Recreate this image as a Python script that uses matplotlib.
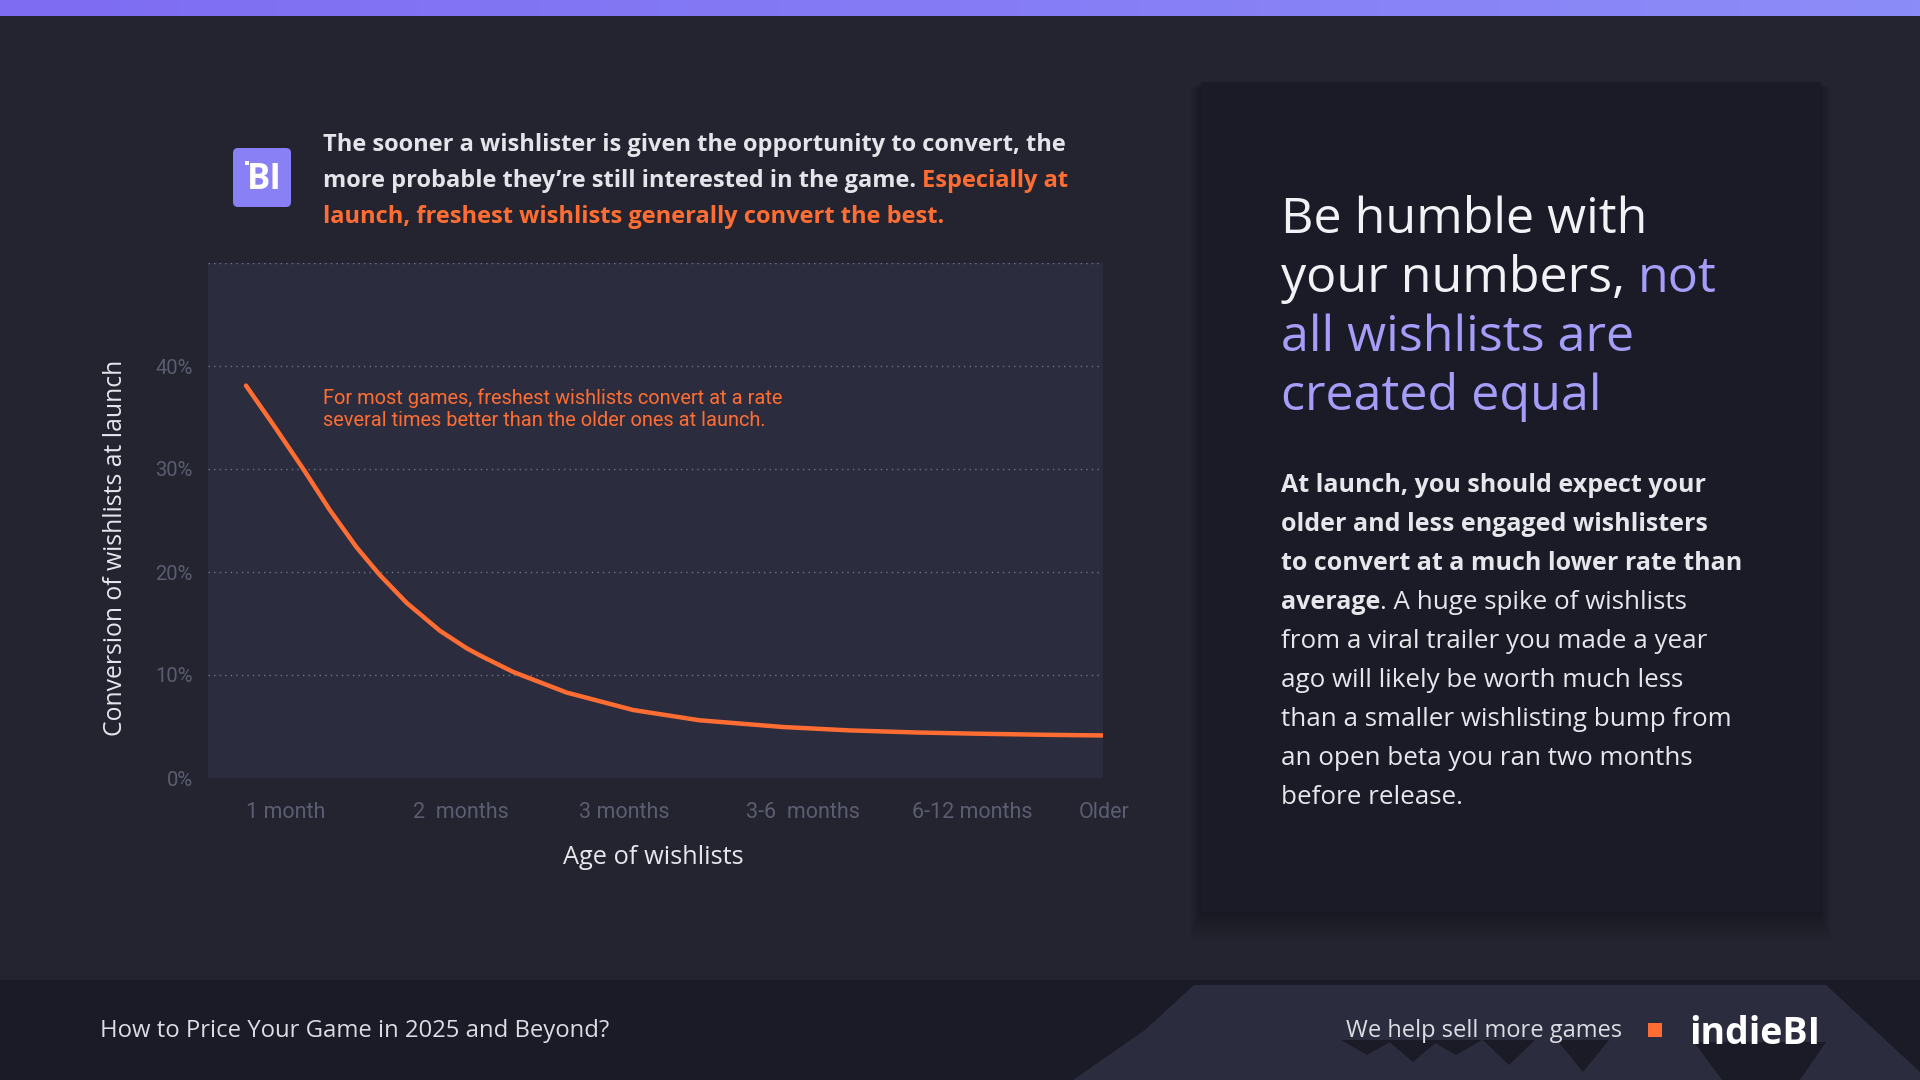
import numpy as np
import matplotlib.pyplot as plt
from matplotlib.patches import Rectangle, FancyBboxPatch, Polygon
from matplotlib.colors import LinearSegmentedColormap

# chart data
age_labels = ['1 month', '2  months', '3 months', '3-6  months', '6-12 months', 'Older']
age_ticks = [0, 1, 2, 3, 4, 5]
curve_x = [0.0, 0.164, 0.344, 0.504, 0.664, 0.804, 0.965, 1.164, 1.325, 1.405, 1.604,
           1.925, 2.325, 2.725, 3.225, 3.625, 4.026, 4.426, 4.826, 5.15]
curve_y = [38.1, 34.3, 30.0, 26.0, 22.4, 19.7, 17.0, 14.3, 12.6, 11.9, 10.3,
           8.3, 6.6, 5.6, 4.95, 4.62, 4.42, 4.29, 4.19, 4.13]
y_ticks = [0, 10, 20, 30, 40]
y_grid = [10, 20, 30, 40, 50]

BG = '#232430'
PLOT_BG = '#2b2c3e'
PANEL = '#1a1b27'
ORANGE = '#ff6d33'
LAVENDER = '#a59df8'
WHITE = '#f2f2f6'
SANS = ['Open Sans', 'DejaVu Sans']
ROBOTO = ['Roboto', 'DejaVu Sans']

fig = plt.figure(figsize=(19.2, 10.8), dpi=100, facecolor=BG)

# background canvas in pixel coordinates
bg = fig.add_axes([0, 0, 1, 1])
bg.set_xlim(0, 1920)
bg.set_ylim(1080, 0)
bg.axis('off')

# top gradient bar
grad = np.linspace(0, 1, 256).reshape(1, -1)
bar_cmap = LinearSegmentedColormap.from_list('bar', ['#7e6cf2', '#8c8cf8'])
bg.imshow(grad, cmap=bar_cmap, extent=[0, 1920, 16, 0], aspect='auto')

# right panel with soft shadow
for i in range(12):
    bg.add_patch(Rectangle((1201 - i, 82 + i * 0.5), 619 + 2 * i, 830 + i * 2,
                           color='black', alpha=0.025, lw=0))
bg.add_patch(Rectangle((1201, 82), 619, 830, color=PANEL, lw=0))

# footer
bg.add_patch(Rectangle((0, 980), 1920, 100, color=PANEL, lw=0))
bg.add_patch(Polygon([(1073, 1080), (1145, 1030), (1194, 985), (1826, 985),
                      (1920, 1072), (1920, 1080)], closed=True, color=PLOT_BG, lw=0))
for cx, cy in [(1367, 1055), (1413, 1062), (1456, 1055), (1509, 1065), (1583, 1072)]:
    bg.add_patch(Polygon([(cx - 26, 1040), (cx + 26, 1040), (cx, cy)], closed=True,
                         color=PANEL, lw=0))
bg.add_patch(Polygon([(1694, 1042), (1826, 1042), (1800, 1080), (1722, 1080)],
                     closed=True, color=PANEL, lw=0))

# logo
bg.add_patch(FancyBboxPatch((236, 151), 52, 53, boxstyle='round,pad=3,rounding_size=5',
                            color='#8a80f6', lw=0))
bg.text(264, 180, 'BI', color='white', fontsize=25, fontweight='bold', family=SANS,
        ha='center', va='center')
bg.add_patch(Rectangle((245, 161), 4, 4, color='white', lw=0))


def chain(x, y, parts, **kw):
    t = bg.text(x, y, parts[0][0], color=parts[0][1], va='baseline', ha='left', **kw)
    for s, c in parts[1:]:
        t = bg.annotate(s, xy=(1, 0), xycoords=t, color=c, va='bottom', ha='left', **kw)
    return t


# header text
head_kw = dict(fontsize=17, fontweight='bold', family=SANS)
chain(323, 151, [('The sooner a wishlister is given the opportunity to convert, the', '#e4e4ea')], **head_kw)
chain(323, 187, [('more probable they\u2019re still interested in the game. ', '#e4e4ea'),
                 ('Especially at', ORANGE)], **head_kw)
chain(323, 223, [('launch, freshest wishlists generally convert the best.', ORANGE)], **head_kw)

# right panel title
title_kw = dict(fontsize=36.2, family=SANS)
chain(1281, 233, [('Be humble with', WHITE)], **title_kw)
chain(1281, 292, [('your numbers, ', WHITE), ('not', LAVENDER)], **title_kw)
chain(1281, 351, [('all wishlists are', LAVENDER)], **title_kw)
chain(1281, 410, [('created equal', LAVENDER)], **title_kw)

# right panel body
body_b = dict(fontsize=18, fontweight='bold', family=SANS)
body_r = dict(fontsize=18.7, family=SANS)
body_col = '#e6e6ec'
chain(1281, 492, [('At launch, you should expect your', body_col)], **body_b)
chain(1281, 531, [('older and less engaged wishlisters', body_col)], **body_b)
chain(1281, 570, [('to convert at a much lower rate than', body_col)], **body_b)
t = chain(1281, 609, [('average', body_col)], **body_b)
bg.annotate('. A huge spike of wishlists', xy=(1, 0), xycoords=t, color=body_col,
            va='bottom', ha='left', **body_r)
body_lines = ['from a viral trailer you made a year',
              'ago will likely be worth much less',
              'than a smaller wishlisting bump from',
              'an open beta you ran two months',
              'before release.']
for i, line in enumerate(body_lines):
    chain(1281, 648 + i * 38.9, [(line, body_col)], **body_r)

# footer text
bg.text(100, 1031, 'How to Price Your Game in 2025 and Beyond?', color='#dcdce4',
        fontsize=17.2, family=SANS, va='center', ha='left')
bg.text(1622, 1031, 'We help sell more games', color='#dcdce4',
        fontsize=17, family=SANS, va='center', ha='right')
bg.add_patch(Rectangle((1648, 1023), 14, 14, color=ORANGE, lw=0))
bg.text(1820, 1044, 'indieBI', color='white', fontsize=27, fontweight='bold',
        family=SANS, va='baseline', ha='right')

# chart
ax = fig.add_axes([208 / 1920, (1080 - 778) / 1080, 895 / 1920, 515 / 1080])
ax.set_facecolor(PLOT_BG)
ax.set_xlim(-0.228, 5.146)
ax.set_ylim(0, 50)
for s in ax.spines.values():
    s.set_visible(False)
for g in y_grid:
    ax.axhline(g, color='#70728a', lw=1, ls=(0, (1, 3)), zorder=1)
ax.plot(curve_x, curve_y, color=ORANGE, lw=3.2, solid_capstyle='round',
        solid_joinstyle='round', zorder=3)

ax.set_yticks(y_ticks)
ax.set_yticklabels([f'{v}%' for v in y_ticks], family=ROBOTO,
                   fontsize=14.5, color='#5b5d70')
ax.set_xticks(age_ticks)
ax.set_xticklabels(age_labels, family=ROBOTO, fontsize=15.5,
                   color='#5b5d70', ha='left')
ax.tick_params(axis='both', length=0)
ax.tick_params(axis='y', pad=11)
ax.tick_params(axis='x', pad=17)

ax.set_xlabel('Age of wishlists', fontsize=18.3, family=SANS, color='#e6e6ec')
ax.xaxis.set_label_coords((653 - 208) / 895, (778 - 857) / 515)
ax.xaxis.label.set_va('center')
ax.set_ylabel('Conversion of wishlists at launch', fontsize=17.8, family=SANS,
              color='#e6e6ec')
ax.yaxis.set_label_coords((116 - 208) / 895, (778 - 548) / 515)
ax.yaxis.label.set_va('center')

ax.text(0.465, 34.2, 'For most games, freshest wishlists convert at a rate\n'
        'several times better than the older ones at launch.',
        color=ORANGE, fontsize=14.4, family=ROBOTO,
        va='baseline', ha='left', linespacing=1.15)

fig.savefig('out.png', dpi=100, facecolor=BG)
